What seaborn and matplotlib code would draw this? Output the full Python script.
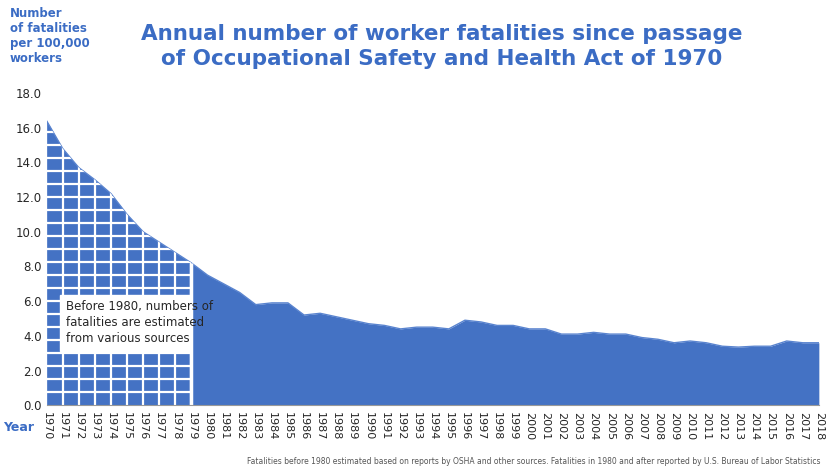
import matplotlib.pyplot as plt
import matplotlib.patches as mpatches
import numpy as np
import seaborn as sns

sns.set_style("white")

years = list(range(1970, 2019))
rates = [16.4, 14.8, 13.7, 13.0, 12.2, 11.0, 10.0, 9.4, 8.8, 8.2,
         7.5, 7.0, 6.5, 5.8, 5.9, 5.9, 5.2, 5.3, 5.1, 4.9,
         4.7, 4.6, 4.4, 4.5, 4.5, 4.4, 4.9, 4.8, 4.6, 4.6,
         4.4, 4.4, 4.1, 4.1, 4.2, 4.1, 4.1, 3.9, 3.8, 3.6,
         3.7, 3.6, 3.4, 3.35, 3.4, 3.4, 3.7, 3.6, 3.6]
yticks = [0, 2, 4, 6, 8, 10, 12, 14, 16, 18]

blue = "#4472c4"
title_blue = "#3b6cc4"

fig = plt.figure(figsize=(8.33, 4.75), dpi=100)
ax = fig.add_axes([0.056, 0.147, 0.927, 0.657])

sns.lineplot(x=years, y=rates, ax=ax, color="#5a84cf", linewidth=1)
ax.fill_between(years, rates, color=blue, linewidth=0)

# grid pattern over the estimated years (before 1980)
est_years = years[:10]
clip = mpatches.Polygon(
    list(zip(est_years + [1979, 1970], rates[:10] + [0, 0])),
    closed=True, transform=ax.transData, visible=False)
ax.add_patch(clip)
for y in np.arange(0.75, 17, 0.75):
    ln = ax.hlines(y, 1970, 1979, color="white", linewidth=1.6)
    ln.set_clip_path(clip)
for x in est_years[1:]:
    ln = ax.vlines(x, 0, 17, color="white", linewidth=1.6)
    ln.set_clip_path(clip)
ax.vlines(1979, 0, rates[9], color="white", linewidth=2.5)

ax.add_patch(mpatches.Rectangle((1970.8, 3.1), 8.1, 3.25, color="white", zorder=3))
ax.text(1971.2, 4.75, "Before 1980, numbers of\nfatalities are estimated\nfrom various sources",
        fontsize=8.5, va="center", ha="left", zorder=4, linespacing=1.3)

ax.set_xlim(1970, 2018)
ax.set_ylim(0, 18)
ax.set_yticks(yticks)
ax.set_yticklabels([f"{v:.1f}" for v in yticks], fontsize=8.5)
ax.set_xticks(years)
ax.set_xticklabels([str(y) for y in years], rotation=270, fontsize=8)
ax.tick_params(axis="x", length=3, color="#999999", pad=2)
ax.tick_params(axis="y", length=0)
for s in ["top", "right", "left"]:
    ax.spines[s].set_visible(False)
ax.spines["bottom"].set_color("#999999")

fig.text(0.53, 0.95, "Annual number of worker fatalities since passage\nof Occupational Safety and Health Act of 1970",
         ha="center", va="top", fontsize=15.5, fontweight="bold", color=title_blue, linespacing=1.3)
fig.text(0.012, 0.985, "Number\nof fatalities\nper 100,000\nworkers", ha="left", va="top",
         fontsize=8.5, fontweight="bold", color=title_blue, linespacing=1.2)
fig.text(0.004, 0.1, "Year", ha="left", va="center", fontsize=9, fontweight="bold", color=title_blue)
fig.text(0.985, 0.028, "Fatalities before 1980 estimated based on reports by OSHA and other sources. "
         "Fatalities in 1980 and after reported by U.S. Bureau of Labor Statistics",
         ha="right", va="center", fontsize=5.5, color="#555555")

fig.savefig("out.png", dpi=100)
